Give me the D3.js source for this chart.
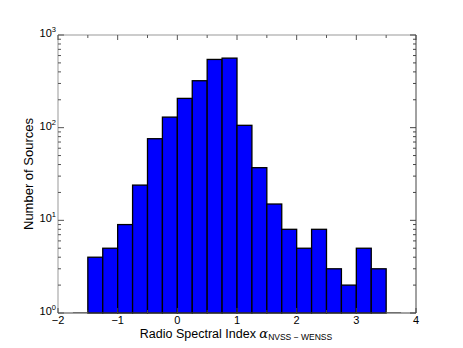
<!DOCTYPE html>
<html>
<head>
<meta charset="utf-8">
<script src="https://d3js.org/d3.v7.min.js"></script>
<style>
  body { margin: 0; background: #fff; }
  text { font-family: "Liberation Sans", Arial, sans-serif; fill: #000; }
</style>
</head>
<body>
<script>
// histogram bins (left edges) and counts
var binStart = [-1.5, -1.25, -1.0, -0.75, -0.5, -0.25, 0.0, 0.25, 0.5, 0.75,
                1.0, 1.25, 1.5, 1.75, 2.0, 2.25, 2.5, 2.75, 3.0, 3.25];
var counts   = [4, 5, 9, 24, 76, 130, 207, 321, 545, 563,
                106, 37, 15, 8, 5, 8, 3, 2, 5, 3];
var emptyBins = [-1.75, 3.5];
var binWidth = 0.25;
var xTicks = [-2, -1, 0, 1, 2, 3, 4];
var yTicks = [0, 1, 2, 3];

var W = 463, H = 348;
var margin = {left: 58, right: 47, top: 35, bottom: 35};

var svg = d3.select("body").append("svg")
  .attr("width", W).attr("height", H);

var x = d3.scaleLinear().domain([-2, 4]).range([margin.left, W - margin.right]);
var y = d3.scaleLog().domain([1, 1000]).range([H - margin.bottom, margin.top]);

var g = svg.append("g");

g.selectAll("rect.bar")
  .data(binStart)
  .enter().append("rect")
    .attr("class", "bar")
    .attr("x", function(d){ return x(d); })
    .attr("width", function(d){ return x(d + binWidth) - x(d); })
    .attr("y", function(d, i){ return y(counts[i]); })
    .attr("height", function(d, i){ return y(1) - y(counts[i]); })
    .attr("fill", "#0000ff")
    .attr("stroke", "#000")
    .attr("stroke-width", 1.3);

g.selectAll("line.empty")
  .data(emptyBins)
  .enter().append("line")
    .attr("x1", function(d){ return x(d); })
    .attr("x2", function(d){ return x(d + binWidth); })
    .attr("y1", y(1) - 0.5).attr("y2", y(1) - 0.5)
    .attr("stroke", "#999").attr("stroke-width", 1);

// frame
var x0 = x.range()[0], x1 = x.range()[1], y0 = y.range()[0], y1 = y.range()[1];
svg.append("line").attr("x1", x0).attr("x2", x1).attr("y1", y1).attr("y2", y1).attr("stroke", "#999");
svg.append("line").attr("x1", x0).attr("x2", x0).attr("y1", y0).attr("y2", y1).attr("stroke", "#999");
svg.append("line").attr("x1", x0).attr("x2", x1).attr("y1", y0).attr("y2", y0).attr("stroke", "#444");
svg.append("line").attr("x1", x1).attr("x2", x1).attr("y1", y0).attr("y2", y1).attr("stroke", "#444");

// x ticks: bottom and top, inward
var xMajor = d3.range(-2, 4.01, 1), xMinor = d3.range(-1.5, 4, 1);
function xTickLines(vals, len) {
  vals.forEach(function(v){
    svg.append("line").attr("x1", x(v)).attr("x2", x(v)).attr("y1", y0).attr("y2", y0 - len).attr("stroke", "#444");
    svg.append("line").attr("x1", x(v)).attr("x2", x(v)).attr("y1", y1).attr("y2", y1 + len).attr("stroke", "#555");
  });
}
xTickLines(xMajor, 5);
xTickLines(xMinor, 3);

// y ticks: left and right, inward
var yMinor = [];
for (var e = 0; e < 3; e++) for (var m = 2; m <= 9; m++) yMinor.push(m * Math.pow(10, e));
function yTickLines(vals, len) {
  vals.forEach(function(v){
    svg.append("line").attr("x1", x0).attr("x2", x0 + len).attr("y1", y(v)).attr("y2", y(v)).attr("stroke", "#555");
    svg.append("line").attr("x1", x1).attr("x2", x1 - len).attr("y1", y(v)).attr("y2", y(v)).attr("stroke", "#444");
  });
}
yTickLines(yTicks.map(function(e){ return Math.pow(10, e); }), 6);
yTickLines(yMinor, 3);

// tick labels
svg.selectAll("text.xt")
  .data(xTicks)
  .enter().append("text")
    .attr("x", function(d){ return x(d); })
    .attr("y", y0 + 11)
    .attr("text-anchor", "middle")
    .attr("font-size", 11)
    .text(function(d){ return d < 0 ? "\u2212" + Math.abs(d) : d; });

var yt = svg.selectAll("text.yt")
  .data(yTicks)
  .enter().append("text")
    .attr("x", x0 - 2)
    .attr("y", function(d){ return y(Math.pow(10, d)) + 2; })
    .attr("text-anchor", "end")
    .attr("font-size", 11);
yt.append("tspan").text("10");
yt.append("tspan").attr("dy", -5).attr("font-size", 7.5).text(function(d){ return d; });

// axis labels
var xl = svg.append("text")
  .attr("x", (x0 + x1) / 2 - 1)
  .attr("y", 338)
  .attr("text-anchor", "middle")
  .attr("font-size", 12.5);
xl.append("tspan").text("Radio Spectral Index ");
xl.append("tspan").attr("font-style", "italic").attr("font-family", "DejaVu Serif, serif").attr("font-size", 13).text("\u03b1");
xl.append("tspan").attr("dy", 2).attr("font-size", 8.5).text("NVSS \u2212 WENSS");

svg.append("text")
  .attr("transform", "translate(33," + ((y0 + y1) / 2) + ") rotate(-90)")
  .attr("text-anchor", "middle")
  .attr("font-size", 13)
  .text("Number of Sources");
</script>
</body>
</html>
